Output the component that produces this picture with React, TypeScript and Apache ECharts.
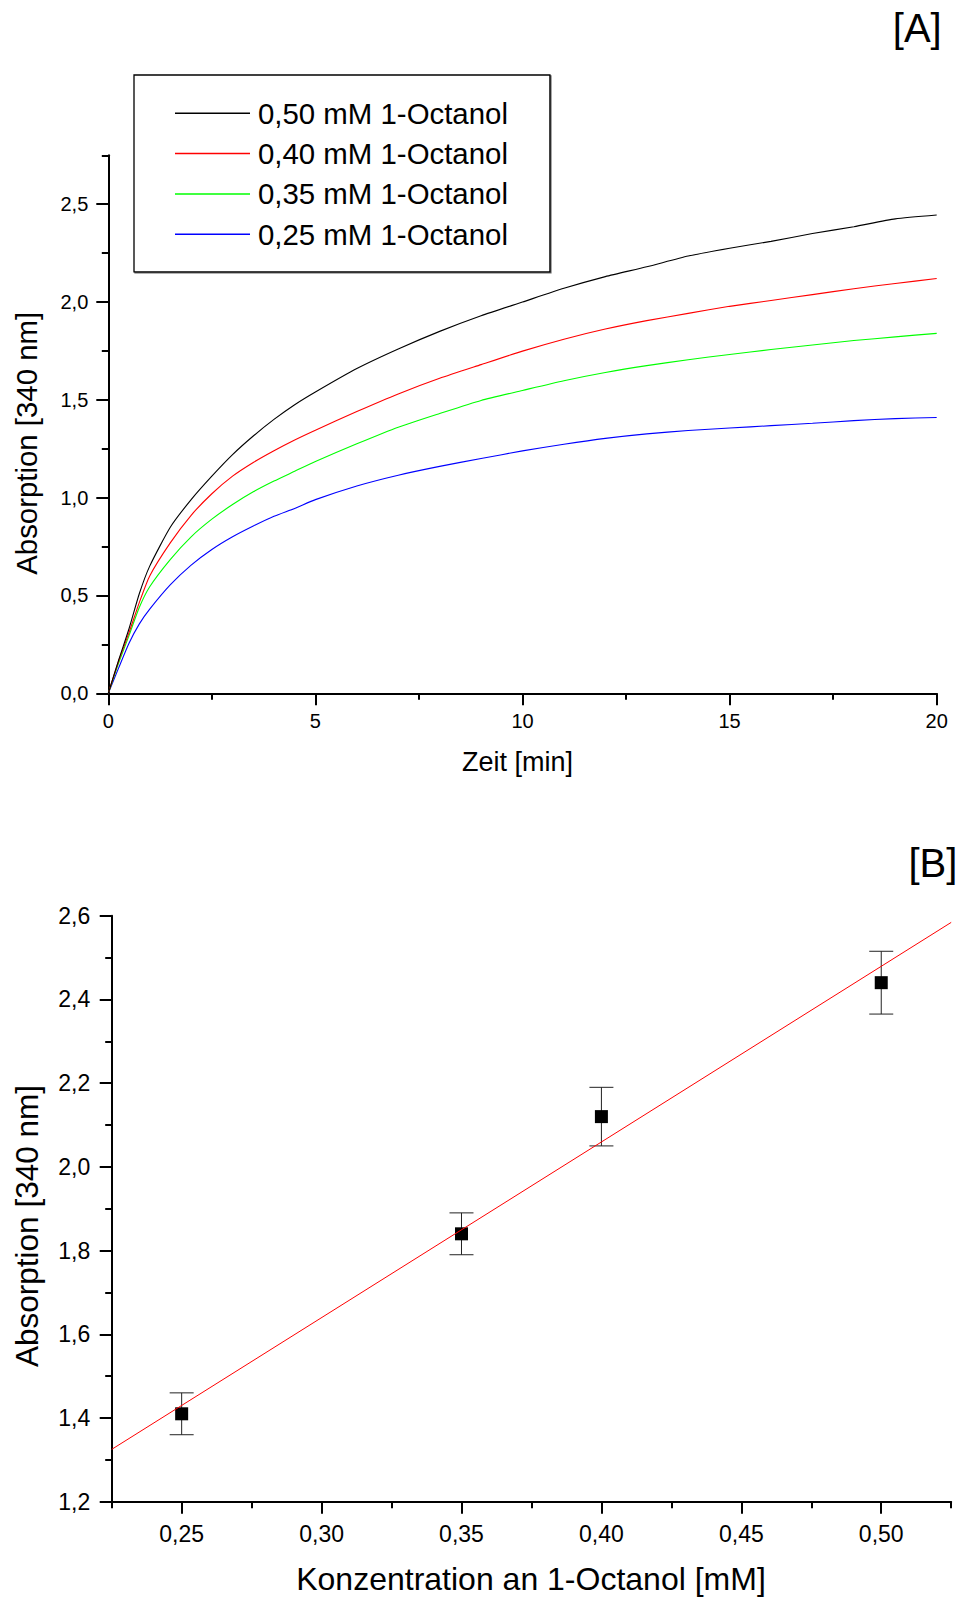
import React, { useEffect, useRef } from "react";
import * as echarts from "echarts";

const FONT = "'Liberation Sans', Arial, Helvetica, sans-serif";

// [A] Kinetics: absorbance at 340 nm over time for four 1-octanol concentrations
const timeMin = [0, 0.25, 0.5, 0.75, 1, 1.5, 2, 2.5, 3, 3.5, 4, 4.5, 5, 6, 7, 8, 9, 10, 11, 12, 13, 14, 15, 16, 17, 18, 19, 20];
const abs050 = [0, 0.17, 0.33, 0.51, 0.65, 0.85, 0.99, 1.11, 1.22, 1.315, 1.4, 1.475, 1.54, 1.66, 1.76, 1.85, 1.93, 2.0, 2.07, 2.13, 2.18, 2.235, 2.275, 2.31, 2.35, 2.385, 2.425, 2.445];
const abs040 = [0, 0.165, 0.31, 0.465, 0.6, 0.77, 0.91, 1.02, 1.11, 1.18, 1.24, 1.295, 1.345, 1.44, 1.53, 1.61, 1.68, 1.749, 1.81, 1.862, 1.905, 1.942, 1.978, 2.008, 2.038, 2.068, 2.095, 2.12];
const abs035 = [0, 0.155, 0.295, 0.44, 0.545, 0.685, 0.8, 0.89, 0.965, 1.03, 1.085, 1.135, 1.185, 1.275, 1.36, 1.43, 1.497, 1.548, 1.598, 1.64, 1.675, 1.705, 1.732, 1.757, 1.78, 1.803, 1.822, 1.84];
const abs025 = [0, 0.13, 0.256, 0.355, 0.43, 0.555, 0.655, 0.735, 0.8, 0.855, 0.905, 0.945, 0.99, 1.06, 1.115, 1.16, 1.2, 1.239, 1.273, 1.303, 1.326, 1.343, 1.356, 1.368, 1.38, 1.394, 1.404, 1.41];
const kineticNames = ["0,50 mM 1-Octanol", "0,40 mM 1-Octanol", "0,35 mM 1-Octanol", "0,25 mM 1-Octanol"];
const kineticColors = ["#000000", "#ff0000", "#00ff00", "#0000ff"];
const kineticValues = [abs050, abs040, abs035, abs025];

// [B] Final absorbance vs. concentration with error bars and linear fit
const concentration = [0.25, 0.35, 0.4, 0.5];
const endAbsorbance = [1.41, 1.84, 2.12, 2.44];
const endError = [0.05, 0.05, 0.07, 0.075];
const fitX = [0.225, 0.525];
const fitY = [1.325, 2.584];

// Tick values
const timeTicks = [0, 5, 10, 15, 20];
const timeMinorTicks = [2.5, 7.5, 12.5, 17.5];
const absTicksA = [0, 0.5, 1, 1.5, 2, 2.5];
const absMinorTicksA = [0.25, 0.75, 1.25, 1.75, 2.25, 2.75];
const concTicks = [0.25, 0.3, 0.35, 0.4, 0.45, 0.5];
const concMinorTicks = [0.225, 0.275, 0.325, 0.375, 0.425, 0.475, 0.525];
const absTicksB = [1.2, 1.4, 1.6, 1.8, 2.0, 2.2, 2.4, 2.6];
const absMinorTicksB = [1.3, 1.5, 1.7, 1.9, 2.1, 2.3, 2.5];

const comma = (digits: number) => (v: number) => v.toFixed(digits).replace(".", ",");

function mainAxis(gridIndex: number, position: string, min: number, max: number, ticks: number[], digits: number, fontSize: number, margin: number) {
  return {
    type: "value",
    gridIndex,
    position,
    min,
    max,
    axisLine: { show: true, onZero: false, lineStyle: { color: "#000", width: 2 } },
    axisTick: { show: true, inside: false, length: 12, customValues: ticks, lineStyle: { color: "#000", width: 2 } },
    axisLabel: { show: true, customValues: ticks, margin, fontSize, fontFamily: FONT, color: "#000", formatter: comma(digits) },
    splitLine: { show: false },
  };
}

function minorAxis(gridIndex: number, position: string, min: number, max: number, ticks: number[]) {
  return {
    type: "value",
    gridIndex,
    position,
    min,
    max,
    axisLine: { show: false, onZero: false },
    axisTick: { show: true, inside: false, length: 6.5, customValues: ticks, lineStyle: { color: "#000", width: 2 } },
    axisLabel: { show: false },
    splitLine: { show: false },
  };
}

function textEl(text: string, x: number, y: number, size: number, align: string, rotation = 0) {
  return {
    type: "text",
    x,
    y,
    rotation,
    style: { text, fill: "#000", font: `${size}px ${FONT}`, align, verticalAlign: "middle" },
  };
}

export default function App() {
  const ref = useRef<HTMLDivElement>(null);

  useEffect(() => {
    const chart = echarts.init(ref.current!, null, { renderer: "svg" });

    const kineticSeries = kineticValues.map((vals, i) => ({
      type: "line",
      name: kineticNames[i],
      xAxisIndex: 0,
      yAxisIndex: 0,
      data: timeMin.map((t, j) => [t, vals[j]]),
      showSymbol: false,
      symbol: "none",
      smooth: 0.2,
      color: kineticColors[i],
      lineStyle: { color: kineticColors[i], width: 1.1 },
      z: 5 - i,
    }));

    const option = {
      animation: false,
      backgroundColor: "#ffffff",
      textStyle: { fontFamily: FONT },
      grid: [
        { left: 108.3, top: 155.3, width: 828.4, height: 538, containLabel: false },
        { left: 111.7, top: 915.7, width: 839.5, height: 586, containLabel: false },
      ],
      xAxis: [
        mainAxis(0, "bottom", 0, 20, timeTicks, 0, 20, 18),
        minorAxis(0, "bottom", 0, 20, timeMinorTicks),
        mainAxis(1, "bottom", 0.225, 0.525, concTicks, 2, 23, 21),
        minorAxis(1, "bottom", 0.225, 0.525, concMinorTicks),
      ],
      yAxis: [
        mainAxis(0, "left", 0, 2.75, absTicksA, 1, 20, 20),
        minorAxis(0, "left", 0, 2.75, absMinorTicksA),
        mainAxis(1, "left", 1.2, 2.6, absTicksB, 1, 23, 21.5),
        minorAxis(1, "left", 1.2, 2.6, absMinorTicksB),
      ],
      legend: {
        data: kineticNames,
        orient: "vertical",
        left: 134,
        top: 75,
        padding: [23.3, 42, 22.7, 41],
        itemGap: 10.3,
        itemWidth: 75,
        itemHeight: 1.5,
        icon: "rect",
        backgroundColor: "#ffffff",
        borderColor: "#000",
        borderWidth: 1.3,
        shadowColor: "rgba(0,0,0,0.6)",
        shadowOffsetX: 1,
        shadowOffsetY: 1,
        shadowBlur: 0,
        textStyle: { fontSize: 29.4, lineHeight: 30, fontFamily: FONT, color: "#000", padding: [0, 0, 0, 3] },
        selectedMode: false,
      },
      graphic: [
        textEl("[A]", 941.7, 27.5, 40, "right"),
        textEl("[B]", 957.4, 862.7, 40, "right"),
        textEl("Zeit [min]", 517.5, 762.3, 27, "center"),
        textEl("Konzentration an 1-Octanol [mM]", 531, 1579, 32, "center"),
        textEl("Absorption [340 nm]", 26, 443.3, 29.4, "center", Math.PI / 2),
        textEl("Absorption [340 nm]", 27, 1226, 31.5, "center", Math.PI / 2),
      ],
      series: [
        ...kineticSeries,
        {
          type: "custom",
          name: "errors",
          xAxisIndex: 2,
          yAxisIndex: 2,
          data: concentration.map((c, i) => [c, endAbsorbance[i], endError[i]]),
          encode: { x: 0, y: 1 },
          z: 3,
          renderItem: (_params: any, api: any) => {
            const x = api.value(0);
            const y = api.value(1);
            const e = api.value(2);
            const top = api.coord([x, y + e]);
            const bot = api.coord([x, y - e]);
            const half = 12;
            const style = { stroke: "#222", lineWidth: 1 };
            return {
              type: "group",
              children: [
                { type: "line", shape: { x1: top[0], y1: top[1], x2: bot[0], y2: bot[1] }, style },
                { type: "line", shape: { x1: top[0] - half, y1: top[1], x2: top[0] + half, y2: top[1] }, style },
                { type: "line", shape: { x1: bot[0] - half, y1: bot[1], x2: bot[0] + half, y2: bot[1] }, style },
              ],
            };
          },
        },
        {
          type: "scatter",
          name: "points",
          xAxisIndex: 2,
          yAxisIndex: 2,
          data: concentration.map((c, i) => [c, endAbsorbance[i]]),
          symbol: "rect",
          symbolSize: 13,
          itemStyle: { color: "#000", opacity: 1 },
          z: 4,
        },
        {
          type: "line",
          name: "fit",
          xAxisIndex: 2,
          yAxisIndex: 2,
          data: fitX.map((x, i) => [x, fitY[i]]),
          showSymbol: false,
          symbol: "none",
          lineStyle: { color: "#ff0000", width: 1 },
          z: 5,
        },
      ],
    };

    chart.setOption(option as any);
    return () => chart.dispose();
  }, []);

  return (
    <div
      ref={ref}
      style={{ position: "absolute", left: 0, top: 0, width: 958, height: 1597, background: "#fff" }}
    />
  );
}
